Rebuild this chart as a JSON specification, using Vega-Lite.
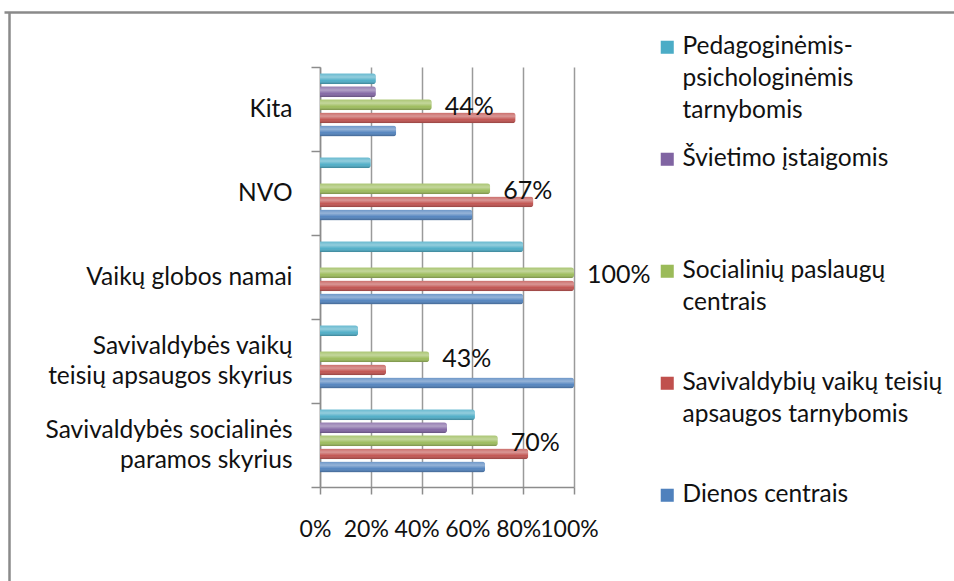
{
  "$schema": "https://vega.github.io/schema/vega-lite/v6.json",
  "width": 254,
  "height": 420,
  "autosize": {"type": "none"},
  "padding": {"left": 320, "top": 67, "right": 380, "bottom": 94},
  "background": "white",
  "config": {"view": {"stroke": null}, "font": "Lato"},
  "data": {
    "values": [
      {"cat": "Kita", "series": "Pedagoginėmis-psichologinėmis tarnybomis", "value": 0.22},
      {"cat": "Kita", "series": "Švietimo įstaigomis", "value": 0.22},
      {"cat": "Kita", "series": "Socialinių paslaugų centrais", "value": 0.44},
      {"cat": "Kita", "series": "Savivaldybių vaikų teisių apsaugos tarnybomis", "value": 0.77},
      {"cat": "Kita", "series": "Dienos centrais", "value": 0.30},
      {"cat": "NVO", "series": "Pedagoginėmis-psichologinėmis tarnybomis", "value": 0.20},
      {"cat": "NVO", "series": "Švietimo įstaigomis", "value": 0},
      {"cat": "NVO", "series": "Socialinių paslaugų centrais", "value": 0.67},
      {"cat": "NVO", "series": "Savivaldybių vaikų teisių apsaugos tarnybomis", "value": 0.84},
      {"cat": "NVO", "series": "Dienos centrais", "value": 0.60},
      {"cat": "Vaikų globos namai", "series": "Pedagoginėmis-psichologinėmis tarnybomis", "value": 0.80},
      {"cat": "Vaikų globos namai", "series": "Švietimo įstaigomis", "value": 0},
      {"cat": "Vaikų globos namai", "series": "Socialinių paslaugų centrais", "value": 1.0},
      {"cat": "Vaikų globos namai", "series": "Savivaldybių vaikų teisių apsaugos tarnybomis", "value": 1.0},
      {"cat": "Vaikų globos namai", "series": "Dienos centrais", "value": 0.80},
      {"cat": "Savivaldybės vaikų teisių apsaugos skyrius", "series": "Pedagoginėmis-psichologinėmis tarnybomis", "value": 0.15},
      {"cat": "Savivaldybės vaikų teisių apsaugos skyrius", "series": "Švietimo įstaigomis", "value": 0},
      {"cat": "Savivaldybės vaikų teisių apsaugos skyrius", "series": "Socialinių paslaugų centrais", "value": 0.43},
      {"cat": "Savivaldybės vaikų teisių apsaugos skyrius", "series": "Savivaldybių vaikų teisių apsaugos tarnybomis", "value": 0.26},
      {"cat": "Savivaldybės vaikų teisių apsaugos skyrius", "series": "Dienos centrais", "value": 1.0},
      {"cat": "Savivaldybės socialinės paramos skyrius", "series": "Pedagoginėmis-psichologinėmis tarnybomis", "value": 0.61},
      {"cat": "Savivaldybės socialinės paramos skyrius", "series": "Švietimo įstaigomis", "value": 0.50},
      {"cat": "Savivaldybės socialinės paramos skyrius", "series": "Socialinių paslaugų centrais", "value": 0.70},
      {"cat": "Savivaldybės socialinės paramos skyrius", "series": "Savivaldybių vaikų teisių apsaugos tarnybomis", "value": 0.82},
      {"cat": "Savivaldybės socialinės paramos skyrius", "series": "Dienos centrais", "value": 0.65}
    ]
  },
  "layer": [
    {
      "encoding": {
        "y": {
          "field": "cat",
          "type": "nominal",
          "sort": ["Kita", "NVO", "Vaikų globos namai", "Savivaldybės vaikų teisių apsaugos skyrius", "Savivaldybės socialinės paramos skyrius"],
          "scale": {"paddingInner": 0, "paddingOuter": 0},
          "title": null,
          "axis": {
            "orient": "left",
            "tickBand": "extent",
            "domainColor": "#8c8c8c",
            "domainWidth": 1.5,
            "tickColor": "#8c8c8c",
            "tickWidth": 1.5,
            "tickSize": 9,
            "labelFont": "Lato",
            "labelFontSize": 24.5,
            "labelColor": "#111111",
            "labelPadding": 19,
            "labelOffset": -15,
            "labelLineHeight": 15,
            "labelLimit": 400,
            "labelExpr": "datum.value == 'Savivaldybės vaikų teisių apsaugos skyrius' ? ['Savivaldybės vaikų', '\u200b', 'teisių apsaugos skyrius'] : datum.value == 'Savivaldybės socialinės paramos skyrius' ? ['Savivaldybės socialinės', '\u200b', 'paramos skyrius'] : ['\u200b', datum.label]"
          }
        },
        "yOffset": {
          "field": "series",
          "type": "nominal",
          "scale": {
            "domain": ["Pedagoginėmis-psichologinėmis tarnybomis", "Švietimo įstaigomis", "Socialinių paslaugų centrais", "Savivaldybių vaikų teisių apsaugos tarnybomis", "Dienos centrais"],
            "paddingInner": 0.16,
            "paddingOuter": 0.8,
            "align": 0.3
          }
        },
        "x": {
          "field": "value",
          "type": "quantitative",
          "scale": {"domain": [0, 1], "nice": false},
          "title": null,
          "axis": {
            "orient": "bottom",
            "values": [0, 0.2, 0.4, 0.6, 0.8, 1],
            "format": ".0%",
            "grid": true,
            "gridColor": "#9a9a9a",
            "gridWidth": 1.5,
            "domainColor": "#8c8c8c",
            "domainWidth": 1.5,
            "tickColor": "#8c8c8c",
            "tickWidth": 1.5,
            "tickSize": 7,
            "labelFont": "Lato",
            "labelFontSize": 23,
            "labelColor": "#111111",
            "labelPadding": 24,
            "labelOffset": -5,
            "labelFlush": false,
            "labelOverlap": false
          }
        }
      },
      "layer": [
        {
          "mark": {"type": "bar", "cornerRadiusEnd": 3},
          "encoding": {
            "color": {
              "field": "series",
              "type": "nominal",
              "scale": {
                "domain": ["Pedagoginėmis-psichologinėmis tarnybomis", "Švietimo įstaigomis", "Socialinių paslaugų centrais", "Savivaldybių vaikų teisių apsaugos tarnybomis", "Dienos centrais"],
                "range": ["#4bacc6", "#8064a2", "#9bbb59", "#c0504d", "#4f81bd"]
              },
              "legend": {
                "orient": "none",
                "legendX": 335,
                "legendY": -32,
                "direction": "vertical",
                "title": null,
                "padding": 0,
                "symbolType": "square",
                "symbolSize": 170,
                "symbolStrokeWidth": 0,
                "symbolOpacity": 1,
                "labelFont": "Lato",
                "labelFontSize": 24.5,
                "labelColor": "#111111",
                "labelLimit": 400,
                "labelOffset": 3,
                "labelBaseline": "middle",
                "rowPadding": 23,
                "labelExpr": "datum.label == 'Pedagoginėmis-psichologinėmis tarnybomis' ? ['Pedagoginėmis-', 'psichologinėmis', 'tarnybomis'] : datum.label == 'Švietimo įstaigomis' ? ['Švietimo įstaigomis', '', ''] : datum.label == 'Socialinių paslaugų centrais' ? ['Socialinių paslaugų', 'centrais', ''] : datum.label == 'Savivaldybių vaikų teisių apsaugos tarnybomis' ? ['Savivaldybių vaikų teisių', 'apsaugos tarnybomis', ''] : [datum.label, '', '']",
                "encode": {"labels": {"update": {"lineHeight": {"value": 32}}}}
              }
            }
          }
        },
        {
          "mark": {
            "type": "bar",
            "cornerRadiusEnd": 3,
            "fill": {
              "gradient": "linear",
              "x1": 0, "y1": 0, "x2": 0, "y2": 1,
              "stops": [
                {"offset": 0, "color": "rgba(255,255,255,0.15)"},
                {"offset": 0.35, "color": "rgba(255,255,255,0.4)"},
                {"offset": 0.65, "color": "rgba(255,255,255,0.05)"},
                {"offset": 1, "color": "rgba(0,0,0,0.28)"}
              ]
            }
          }
        },
        {
          "transform": [{"filter": "datum.series == 'Socialinių paslaugų centrais'"}],
          "mark": {"type": "text", "align": "left", "baseline": "middle", "dx": 13, "dy": 2, "font": "Lato", "fontSize": 25, "color": "#111111"},
          "encoding": {
            "text": {"field": "value", "type": "quantitative", "format": ".0%"}
          }
        }
      ]
    },
    {
      "mark": {"type": "point", "opacity": 0},
      "encoding": {
        "x": {
          "field": "value",
          "type": "quantitative",
          "scale": {"domain": [0, 1], "nice": false, "range": [-316, 700]},
          "title": null,
          "axis": {"orient": "top", "offset": 55, "domainColor": "#8a8a8a", "domainWidth": 2.5, "ticks": false, "labels": false, "grid": false}
        },
        "y": {
          "field": "cat",
          "type": "nominal",
          "scale": {"range": [-55, 640]},
          "title": null,
          "axis": {"orient": "left", "offset": 311, "domainColor": "#8a8a8a", "domainWidth": 2.5, "ticks": false, "labels": false, "grid": false}
        }
      }
    }
  ],
  "resolve": {"scale": {"x": "independent", "y": "independent"}, "axis": {"x": "independent", "y": "independent"}}
}
